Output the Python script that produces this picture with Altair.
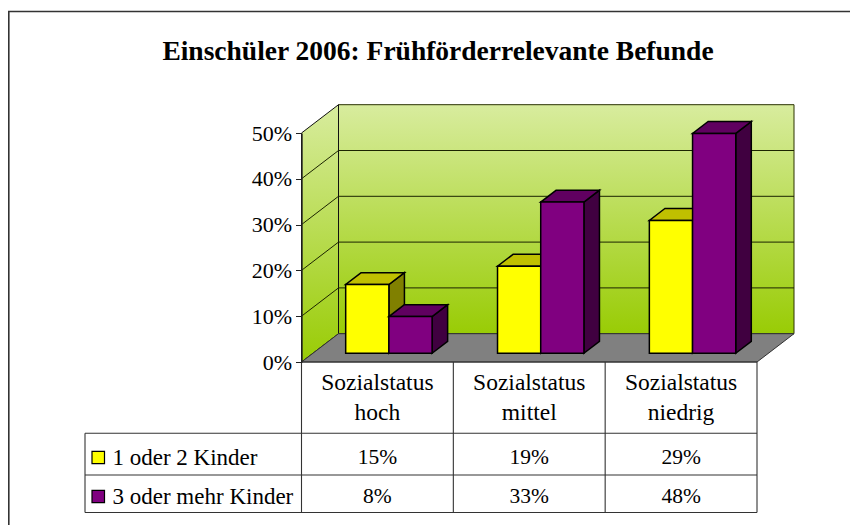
import altair as alt
import pandas as pd

# ---- values
title_text = "Einschüler 2006: Frühförderrelevante Befunde"
categories = ["Sozialstatus hoch", "Sozialstatus mittel", "Sozialstatus niedrig"]
series_names = ["1 oder 2 Kinder", "3 oder mehr Kinder"]
values_small = [15, 19, 29]
values_large = [8, 33, 48]
y_ticks = [0, 10, 20, 30, 40, 50]

# ---- layout (page pixels -> data units)
PAGE = 8
W, H = 842, 517
CAT_L, CAT_R = 301.5, 757.0
Y_0, Y_50 = 362.0, 133.0
CATW = (CAT_R - CAT_L) / 3
PCT = (Y_0 - Y_50) / 50
xd = lambda px: (px - CAT_L) / CATW
yd = lambda py: (Y_0 - py) / PCT

DEPTH_X = 37 / CATW      # category units per full depth
DEPTH_Y = 28.3 / PCT     # percent units per full depth
BAR_W = 43.2 / CATW
BAR_D0, BAR_D1 = 0.31, 0.73

x_scale = alt.Scale(domain=[0, 3], range=[CAT_L - PAGE, CAT_R - PAGE], nice=False, zero=False)
y_scale = alt.Scale(domain=[0, 50], range=[Y_0 - PAGE, Y_50 - PAGE], nice=False, zero=False)
FONT = "Liberation Serif"
y_axis = alt.Axis(
    values=y_ticks, labelExpr="datum.value + '%'", offset=-(CAT_L - PAGE), title=None,
    grid=False, domainColor="#222222", domainWidth=1.4, tickColor="#222222", tickSize=6,
    labelFont=FONT, labelFontSize=22, labelColor="black", labelPadding=4, zindex=1)


def proj(x, v, d):
    return x + d * DEPTH_X, v + d * DEPTH_Y


def X(f="x"):
    return alt.X(f + ":Q", scale=x_scale, axis=None)


def Y(f="y"):
    return alt.Y(f + ":Q", scale=y_scale, axis=y_axis)


def rect(df, **kw):
    return alt.Chart(pd.DataFrame(df)).mark_rect(**kw).encode(
        X("x0"), alt.X2("x1"), Y("y0"), alt.Y2("y1"))


def vert_area(rows, **kw):
    return alt.Chart(pd.DataFrame(rows)).mark_area(**kw).encode(
        X("x"), Y("y0"), alt.Y2("y1"), detail="id:N")


def horiz_area(rows, **kw):
    return alt.Chart(pd.DataFrame(rows)).mark_area(orient="horizontal", **kw).encode(
        Y("y"), X("x0"), alt.X2("x1"), detail="id:N")


def lines(rows, **kw):
    return alt.Chart(pd.DataFrame(rows)).mark_line(**kw).encode(
        X("x"), Y("y"), detail="id:N")


def seg(i, a, b):
    return [dict(id=i, x=a[0], y=a[1]), dict(id=i, x=b[0], y=b[1])]


def text(rows, **kw):
    base = dict(font=FONT, fontSize=21.5, color="black", baseline="middle")
    base.update(kw)
    return alt.Chart(pd.DataFrame(rows)).mark_text(**base).encode(
        X("x"), Y("y"), text="t:N")


def gradient(top, bottom):
    return alt.LinearGradient(
        gradient="linear", x1=0, x2=0, y1=0, y2=1,
        stops=[alt.GradientStop(color=top, offset=0), alt.GradientStop(color=bottom, offset=1)],
    )


# ---- chrome
frame = rect([dict(x0=xd(8.8), x1=xd(950), y0=yd(11.5), y1=yd(600))],
             fill="white", stroke="#333333", strokeWidth=1.6)

# ---- walls and floor
back_wall = rect([dict(x0=DEPTH_X, x1=3 + DEPTH_X, y0=DEPTH_Y, y1=50 + DEPTH_Y)],
                 fill=gradient("#D8EC9E", "#99CC05"), stroke="#2A3300", strokeWidth=1)
left_wall = vert_area(
    [dict(id="w", x=0, y0=0, y1=50), dict(id="w", x=DEPTH_X, y0=DEPTH_Y, y1=50 + DEPTH_Y)],
    fill=gradient("#D8EC9E", "#99CC05"), stroke="#111111", strokeWidth=1)
floor = horiz_area(
    [dict(id="f", y=0, x0=0, x1=3), dict(id="f", y=DEPTH_Y, x0=DEPTH_X, x1=3 + DEPTH_X)],
    fill="#808080", stroke="#333333", strokeWidth=1)

grid_rows = []
for t in y_ticks[1:-1]:
    grid_rows += seg(f"l{t}", proj(0, t, 0), proj(0, t, 1))
    grid_rows += seg(f"b{t}", proj(0, t, 1), proj(3, t, 1))
grid = lines(grid_rows, color="#1C2400", strokeWidth=1)

# ---- bars
bar_layers = []
for s, (vals, front, top, side) in enumerate([
    (values_small, "#FFFF00", "#C0C000", "#808000"),
    (values_large, "#800080", "#600060", "#400040"),
]):
    side_rows, top_rows, front_rows = [], [], []
    for c, v in enumerate(vals):
        left = c + 0.5 - BAR_W + s * BAR_W
        right = left + BAR_W
        a = proj(right, 0, BAR_D0)
        b = proj(right, 0, BAR_D1)
        side_rows += [dict(id=c, x=a[0], y0=a[1], y1=a[1] + v), dict(id=c, x=b[0], y0=b[1], y1=b[1] + v)]
        tl0, ty0 = proj(left, v, BAR_D0)
        tl1, ty1 = proj(left, v, BAR_D1)
        top_rows += [dict(id=c, y=ty0, x0=tl0, x1=tl0 + BAR_W), dict(id=c, y=ty1, x0=tl1, x1=tl1 + BAR_W)]
        fx, fy = proj(left, 0, BAR_D0)
        front_rows.append(dict(x0=fx, x1=fx + BAR_W, y0=fy, y1=fy + v))
    style = dict(stroke="black", strokeWidth=1.5, strokeJoin="miter")
    bar_layers += [
        vert_area(side_rows, fill=side, **style),
        horiz_area(top_rows, fill=top, **style),
        rect(front_rows, fill=front, **style),
    ]

# ---- data table under the plot
ROWS = [433.3, 475.0, 512.5]
TAB_L = 85.0
h_rows = [dict(x0=0, x1=3, y=0)] + [dict(x0=xd(TAB_L), x1=3, y=yd(r)) for r in ROWS]
h_lines = alt.Chart(pd.DataFrame(h_rows)).mark_rule(color="#333333", strokeWidth=1.1).encode(
    X("x0"), alt.X2("x1"), Y("y"))
v_rows = [dict(x=i, y0=yd(ROWS[-1]), y1=0) for i in range(4)] + [dict(x=xd(TAB_L), y0=yd(ROWS[-1]), y1=yd(ROWS[0]))]
v_lines = alt.Chart(pd.DataFrame(v_rows)).mark_rule(color="#333333", strokeWidth=1.1).encode(
    X("x"), Y("y0"), alt.Y2("y1"))

cat_text = text([dict(x=i + 0.5, y=yd(383), t=c) for i, c in enumerate(categories)],
                align="center", lineBreak=" ", lineHeight=30, fontSize=23.5)
row_y = [yd(457.5), yd(496.5)]
val_rows = []
for ry, vals in zip(row_y, [values_small, values_large]):
    val_rows += [dict(x=i + 0.5, y=ry, t=f"{v}%") for i, v in enumerate(vals)]
val_text = text(val_rows, align="center")
name_text = text([dict(x=xd(112.5), y=ry, t=n) for ry, n in zip(row_y, series_names)], align="left", fontSize=23)

swatches = []
for ry, col in zip(row_y, ["#FFFF00", "#800080"]):
    py = Y_0 - ry * PCT
    swatches.append(rect([dict(x0=xd(92), x1=xd(104.5), y0=yd(py - 6.2), y1=yd(py + 6.2))],
                         fill=col, stroke="black", strokeWidth=1.2))

title = text([dict(x=xd(438), y=yd(52), t=title_text)], align="center", fontWeight="bold", fontSize=27.5)

chart = alt.layer(
    frame, title, back_wall, left_wall, floor, grid, *bar_layers,
    h_lines, v_lines, cat_text, val_text, name_text, *swatches,
).properties(
    width=W, height=H, padding=0, autosize=alt.AutoSizeParams(type="none"),
).configure_view(stroke=None)

chart.save("out.html", embed_options={"renderer": "svg", "actions": False})
